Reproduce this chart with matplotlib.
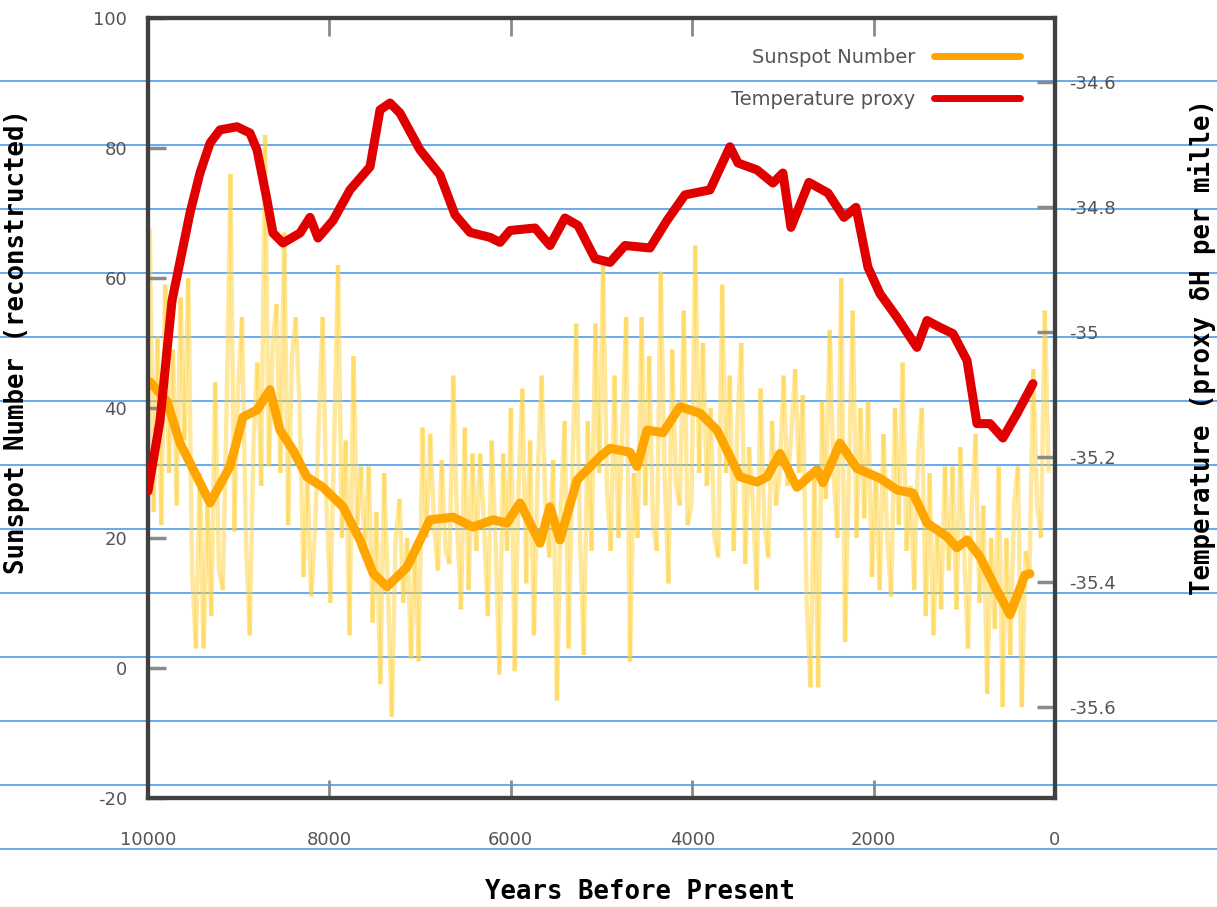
import numpy as np
import matplotlib
matplotlib.use('Agg')
import matplotlib.pyplot as plt
from matplotlib.collections import LineCollection
from matplotlib.lines import Line2D
from matplotlib.ticker import FuncFormatter

plt.rcParams['axes.unicode_minus'] = False

# reconstructed sunspot number, raw (oldest first, evenly spaced in time)
sunspot_raw = [67.6, 24, 51, 22, 59, 30, 49, 25, 57, 35, 60, 15, 3, 30, 3, 25, 8, 44, 15, 12,
               40, 76, 21, 43, 54, 20, 5, 35, 47, 28, 82, 31, 50, 56, 30, 67, 22, 48, 54, 40,
               14, 30, 11, 21, 38, 54, 25, 10, 35, 62, 20, 35, 5, 48, 22, 31, 18, 31, 7, 24,
               -2.5, 30, 12, -7.5, 20, 26, 10, 20, 1.4, 18, 1, 37, 20, 36, 22, 15, 32, 18, 16, 45,
               22, 9, 37, 12, 33, 18, 33, 22, 8, 35, 20, -1, 33, 18, 40, -0.5, 28, 43, 13, 35,
               5, 30, 45, 25, 17, 32, -5, 25, 38, 3, 30, 53, 20, 2, 38, 18, 53, 30, 62, 28,
               18, 45, 20, 36, 54, 1, 30, 20, 54, 25, 48, 22, 18, 61, 30, 13, 49, 28, 25, 55,
               22, 25, 65, 30, 50, 28, 40, 20, 17, 59, 30, 45, 18, 38, 50, 16, 34, 25, 12, 43,
               22, 17, 38, 25, 30, 45, 28, 36, 46, 30, 42, 10, -3, 30, -3, 41, 26, 52, 30, 20,
               60, 4, 30, 55, 20, 40, 23, 41, 14, 30, 12, 36, 20, 11, 40, 22, 47, 18, 28, 12,
               33, 40, 8, 30, 5, 22, 9, 31, 15, 31, 9, 34, 18, 3, 25, 36, 10, 25, -4, 20,
               6, 31, -6, 20, 2, 25, 31, -6, 18, 14, 46, 25, 20, 55, 30]
raw_start, raw_end = 9980, 70

# smoothed sunspot number
smooth_years = [9978, 9790, 9647, 9316, 9096, 8953, 8798, 8655, 8545, 8401, 8247, 8071, 7850,
                7663, 7519, 7365, 7145, 6891, 6637, 6417, 6196, 6042, 5899, 5678, 5568, 5458,
                5270, 5017, 4906, 4686, 4609, 4498, 4322, 4135, 3914, 3727, 3473, 3286, 3176,
                3032, 2845, 2624, 2558, 2371, 2183, 1930, 1742, 1566, 1411, 1191, 1081, 970,
                827, 684, 496, 331, 276]
smooth_ssn = [44, 41, 34.6, 25.4, 31, 38.6, 39.7, 42.8, 36.6, 33.5, 29.4, 27.8, 24.8,
              19.7, 14.6, 12.5, 15.5, 22.8, 23.2, 21.7, 22.8, 22.3, 25.4, 19.2, 24.8, 19.7,
              28.9, 32.5, 33.8, 33.2, 31, 36.6, 36.2, 40.2, 39.2, 36.6, 29.4, 28.6, 29.4,
              33, 27.8, 30.5, 28.5, 34.6, 30.7, 29.2, 27.4, 26.9, 22.3, 20.2, 18.5, 19.7,
              17.1, 13.1, 8.2, 14.3, 14.5]

# temperature proxy (dH per mille)
temp_years = [10000, 9868, 9735, 9537, 9427, 9316, 9206, 9019, 8876, 8798, 8688, 8622, 8512,
              8324, 8214, 8126, 7960, 7773, 7552, 7442, 7332, 7222, 7001, 6781, 6615, 6450,
              6229, 6119, 6009, 5733, 5568, 5403, 5259, 5072, 4906, 4741, 4466, 4278, 4080,
              3804, 3584, 3495, 3286, 3110, 3000, 2911, 2713, 2503, 2327, 2194, 2062, 1930,
              1742, 1522, 1411, 1268, 1125, 970, 860, 717, 574, 419, 243]
temp_dh = [-35.255, -35.143, -34.950, -34.810, -34.746, -34.698, -34.677, -34.672, -34.682,
           -34.709, -34.789, -34.842, -34.858, -34.842, -34.817, -34.850, -34.822, -34.773,
           -34.736, -34.645, -34.634, -34.650, -34.709, -34.749, -34.813, -34.841, -34.849,
           -34.857, -34.838, -34.834, -34.862, -34.818, -34.830, -34.883, -34.889, -34.862,
           -34.866, -34.822, -34.781, -34.773, -34.704, -34.730, -34.741, -34.762, -34.746,
           -34.833, -34.761, -34.778, -34.817, -34.801, -34.897, -34.939, -34.977, -35.025,
           -34.982, -34.993, -35.003, -35.046, -35.147, -35.147, -35.170, -35.131, -35.083]

x_ticks = [10000, 8000, 6000, 4000, 2000, 0]
left_ticks = [-20, 0, 20, 40, 60, 80, 100]
right_ticks = [-35.6, -35.4, -35.2, -35.0, -34.8, -34.6]

fig = plt.figure(figsize=(12.17, 9.07), dpi=100)

# ruled blue lines across the whole picture
for k in range(13):
    yy = 1 - (81 + 64 * k) / 907
    fig.add_artist(Line2D([0, 1], [yy, yy], transform=fig.transFigure,
                          color='#3f93ec', lw=1.1, zorder=-5))

ax = fig.add_axes([148 / 1217, 1 - 798 / 907, 907 / 1217, 780 / 907])
ax.patch.set_visible(False)
ax2 = ax.twinx()
ax2.patch.set_visible(False)

raw_years = np.linspace(raw_start, raw_end, len(sunspot_raw))
pts = np.column_stack([raw_years, sunspot_raw])
segs = np.stack([pts[:-1], pts[1:]], axis=1)
ax.add_collection(LineCollection(segs, colors='#ffd23a', alpha=0.5, linewidths=3.2, zorder=1))

l1, = ax.plot(smooth_years, smooth_ssn, color='#ffa500', lw=6.5, zorder=3,
              solid_joinstyle='round', solid_capstyle='round', label='Sunspot Number')
l2, = ax2.plot(temp_years, temp_dh, color='#e00000', lw=6.5, zorder=3,
               solid_joinstyle='round', solid_capstyle='round', label='Temperature proxy')

ax.set_xlim(10000, 0)
ax.set_ylim(-20, 100)
ax2.set_ylim(-35.746, -34.498)
ax.set_xticks(x_ticks)
ax.set_yticks(left_ticks)
ax2.set_yticks(right_ticks)
ax2.yaxis.set_major_formatter(FuncFormatter(lambda v, p: '%g' % round(v, 1)))

tick_col = '#8a8a8a'
lab_col = '#555555'
ax.tick_params(axis='x', direction='in', length=13, width=2, color=tick_col,
               labelcolor=lab_col, labelsize=13, pad=24, top=True)
ax.tick_params(axis='y', direction='in', length=13, width=2.5, color=tick_col,
               labelcolor=lab_col, labelsize=13, pad=15)
ax2.tick_params(axis='y', direction='in', length=13, width=2.5, color=tick_col,
                labelcolor=lab_col, labelsize=13, pad=10)

for a in (ax, ax2):
    for s in a.spines.values():
        s.set_color('#404040')
        s.set_linewidth(3)

lab_font = dict(family='DejaVu Sans Mono', weight='bold', size=18.5, color='black')
ax.set_ylabel('Sunspot Number (reconstructed)', **lab_font)
ax.yaxis.set_label_coords(-0.130, 0.585)
ax2.set_ylabel('Temperature (proxy δH per mille)', rotation=90, **lab_font)
ax2.yaxis.set_label_coords(1.147, 0.578)
ax.set_xlabel('Years Before Present', **lab_font)
ax.xaxis.set_label_coords(0.5425, -0.104)

leg = ax2.legend([l1, l2], ['Sunspot Number', 'Temperature proxy'], loc='upper right',
                 bbox_to_anchor=(0.9614, 0.962), frameon=False, markerfirst=False,
                 fontsize=14, labelcolor=lab_col, handlelength=4.4, handletextpad=1.0,
                 labelspacing=1.2, borderpad=0, borderaxespad=0)
for h in leg.legend_handles:
    h.set_linewidth(5)

fig.savefig('out.png', dpi=100)
